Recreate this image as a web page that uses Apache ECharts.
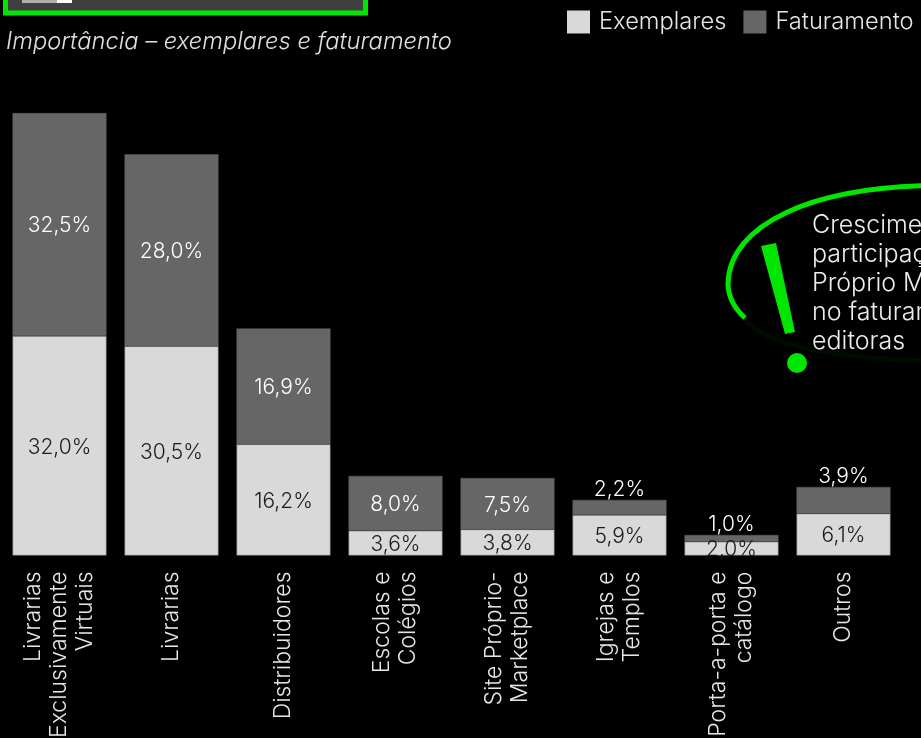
<!DOCTYPE html>
<html><head><meta charset="utf-8">
<style>html,body{margin:0;padding:0;background:#000;overflow:hidden}#c{width:921px;height:738px}</style>
<script src="https://cdn.jsdelivr.net/npm/echarts@6/dist/echarts.min.js"></script>
</head><body><div id="c"></div>
<script>
const categories=['Livrarias\nExclusivamente\nVirtuais','Livrarias','Distribuidores','Escolas e\nColégios','Site Próprio-\nMarketplace','Igrejas e\nTemplos','Porta-a-porta e\ncatálogo','Outros'];
const exemplares=[32.0,30.5,16.2,3.6,3.8,5.9,2.0,6.1];
const faturamento=[32.5,28.0,16.9,8.0,7.5,2.2,1.0,3.9];
const labelsAbove=[5,6,7];
const subtitle='Importância – exemplares e faturamento';
const calloutLines=['Crescimento da','participação do Site','Próprio Marketplace','no faturamento das','editoras'];
const FONT='Inter';
const W=300;
const fmt=p=>p.value.toFixed(1).replace('.',',')+'%';
const chart=echarts.init(document.getElementById('c'),null,{renderer:'canvas'});
chart.setOption({
  animation:false,backgroundColor:'#000',
  textStyle:{fontFamily:FONT},
  title:{text:subtitle,left:6,top:30,padding:0,textStyle:{color:'#e0e0e0',fontStyle:'italic',fontWeight:W,fontSize:23.7,fontFamily:FONT}},
  legend:{left:567,top:10,padding:0,itemWidth:23,itemHeight:23,itemGap:17,icon:'rect',selectedMode:false,
    itemStyle:{borderWidth:0},
    textStyle:{color:'#e6e6e6',fontSize:23.7,fontWeight:W,fontFamily:FONT,padding:[4,0,0,4]}},
  grid:{left:3.5,width:896,top:75.3,height:480.2,outerBoundsMode:'none'},
  xAxis:{type:'category',data:categories,axisLine:{show:false},axisTick:{show:false},
    axisLabel:{interval:0,rotate:90,margin:16,color:'#e6e6e6',fontSize:23,fontWeight:W,lineHeight:26,fontFamily:FONT}},
  yAxis:{type:'value',min:0,max:70,show:false,splitLine:{show:false}},
  series:[
    {name:'Exemplares',type:'bar',stack:'a',barWidth:94,data:exemplares,
      itemStyle:{color:'#d9d9d9',borderColor:'#6a6a6a',borderWidth:0.5},
      label:{show:true,position:'inside',offset:[0,1.5],formatter:fmt,color:'#1a1a1a',fontSize:21,fontWeight:W,fontFamily:FONT}},
    {name:'Faturamento',type:'bar',stack:'a',barWidth:94,
      data:faturamento.map((v,i)=>labelsAbove.includes(i)?{value:v,label:{position:'top',distance:0,offset:[0,0],color:'#ffffff'}}:v),
      itemStyle:{color:'#666666',borderColor:'#5c5c5c',borderWidth:0.5},
      label:{show:true,position:'inside',offset:[0,1.5],formatter:fmt,color:'#ffffff',fontSize:21,fontWeight:W,fontFamily:FONT}}
  ],
  graphic:[
    {type:'rect',shape:{x:5.5,y:-10,width:360,height:23},style:{fill:'#404040',stroke:'#00e600',lineWidth:5},silent:true},
    {type:'rect',shape:{x:22,y:0,width:35,height:3},style:{fill:'#b0b0b0'},silent:true},
    {type:'rect',shape:{x:57,y:0,width:15,height:3},style:{fill:'#ffffff'},silent:true},
    {type:'bezierCurve',shape:{x1:745,y1:318,cpx1:734,cpy1:308,cpx2:728,cpy2:296,x2:728,y2:283},silent:true,style:{fill:'none',lineWidth:5,stroke:'#00e600'}},
    {type:'bezierCurve',shape:{x1:728,y1:283,cpx1:730,cpy1:225,cpx2:810,cpy2:186,x2:940,y2:185.5},silent:true,style:{fill:'none',lineWidth:5,stroke:'#00e600'}},
    {type:'bezierCurve',shape:{x1:745,y1:320,cpx1:765,cpy1:342,cpx2:820,cpy2:358,x2:930,y2:361},silent:true,style:{fill:'none',lineWidth:5,stroke:'#010c01'}},
    {type:'polygon',shape:{points:[[761,246],[776,243],[795,332],[785,334]]},style:{fill:'#00e600'},silent:true},
    {type:'circle',shape:{cx:797,cy:363,r:10},style:{fill:'#00e600'},silent:true},
    {type:'text',x:812,y:211,silent:true,style:{text:calloutLines.join('\n'),fill:'#ededed',fontSize:25,fontWeight:W,lineHeight:29,fontFamily:FONT}}
  ]
});
</script></body></html>
